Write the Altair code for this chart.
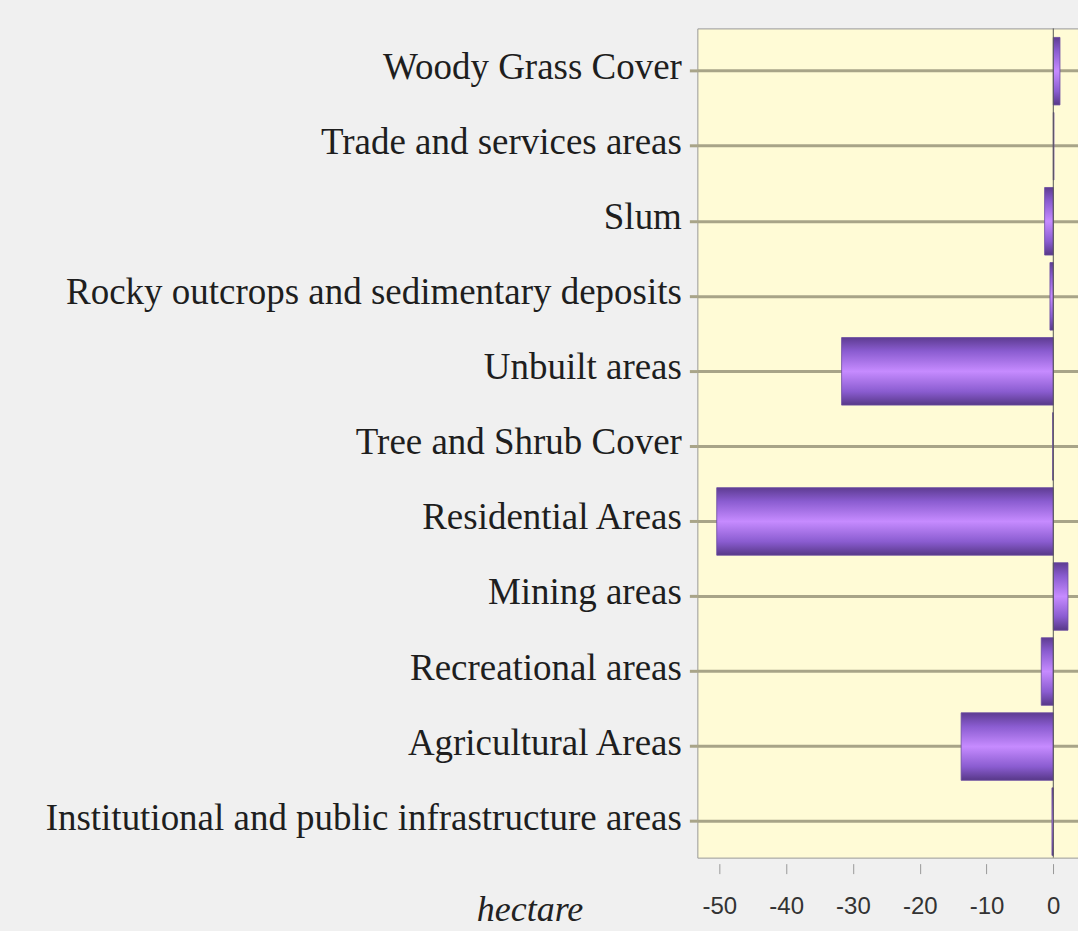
import altair as alt
import pandas as pd

categories = [
    "Woody Grass Cover",
    "Trade and services areas",
    "Slum",
    "Rocky outcrops and sedimentary deposits",
    "Unbuilt areas",
    "Tree and Shrub Cover",
    "Residential Areas",
    "Mining areas",
    "Recreational areas",
    "Agricultural Areas",
    "Institutional and public infrastructure areas",
]
values = [1.0, 0.1, -1.3, -0.5, -31.7, -0.1, -50.4, 2.2, -1.8, -13.8, -0.2]
x_ticks = [-50, -40, -30, -20, -10, 0]

df = pd.DataFrame({"category": categories, "hectare": values})

grad = alt.Gradient(
    gradient="linear",
    x1=0, x2=0, y1=0, y2=1,
    stops=[
        alt.GradientStop(color="#5e3c92", offset=0),
        alt.GradientStop(color="#8a5cd0", offset=0.2),
        alt.GradientStop(color="#c68bff", offset=0.5),
        alt.GradientStop(color="#8a5cd0", offset=0.8),
        alt.GradientStop(color="#573888", offset=1),
    ],
)

xscale = alt.Scale(domain=[-53.3, 3.7], nice=False, zero=False)

bars = alt.Chart(df).mark_bar(color=grad, stroke="#6a4aa0", strokeWidth=0.8).encode(
    x=alt.X(
        "hectare:Q",
        scale=xscale,
        axis=alt.Axis(
            values=x_ticks,
            labelExpr="'' + datum.value",
            title="hectare",
            titleFont="Liberation Serif",
            titleFontStyle="italic",
            titleFontWeight="normal",
            titleFontSize=36,
            titleColor="#222",
            titleX=-168,
            titleY=57,
            titleAlign="center",
            titleBaseline="alphabetic",
            labelFont="Liberation Sans",
            labelFontSize=24,
            labelColor="#333",
            labelPadding=21,
            tickColor="#999",
            tickSize=10,
            tickWidth=1,
            offset=6,
            domain=False,
            grid=False,
            labelFlush=False,
        ),
    ),
    y=alt.Y(
        "category:N",
        sort=categories,
        scale=alt.Scale(paddingInner=0.1, paddingOuter=0.075, align=0.8),
        axis=alt.Axis(
            title=None,
            labelFont="Liberation Serif",
            labelFontSize=37,
            labelColor="#1e1e1e",
            labelPadding=8,
            labelLimit=700,
            labelOffset=-3,
            tickColor="#a8a488",
            tickSize=8,
            tickWidth=3,
            grid=True,
            gridColor="#a8a488",
            gridWidth=3,
            domain=False,
        ),
    ),
)

zero = alt.Chart(pd.DataFrame({"z": [0]})).mark_rule(color="#555", strokeWidth=1).encode(
    x=alt.X("z:Q", scale=xscale)
)

chart = (
    alt.layer(bars, zero)
    .properties(
        width=381,
        height=830,
        autosize=alt.AutoSizeParams(type="none"),
        padding={"left": 698, "top": 28, "right": 0, "bottom": 73},
        background="#f0f0f0",
    )
    .configure_view(fill="#fffbd6", stroke="#999", strokeWidth=1)
)

chart.save("out.html", embed_options={"renderer": "svg", "actions": False})
